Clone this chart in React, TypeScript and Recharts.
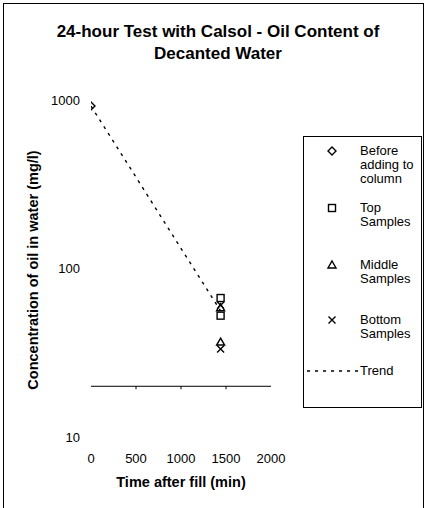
import React from 'react';
import { ScatterChart, Scatter, XAxis, YAxis, ReferenceLine } from 'recharts';

// ---- data ----
const beforeTimes = [0];
const beforeValues = [920];
const sampleTimes = [1440, 1440];
const topValues = [66.8, 52.5];
const middleValues = [58.5, 36.6];
const bottomValues = [60.5, 33.3];
const trendTimes = [0, 1440];
const trendValues = [920, 56];

const xTicks = [0, 500, 1000, 1500, 2000];
const yTicks = [10, 100, 1000];
const axisCrossValue = 20;
const axisTickMarks = [500, 1000, 1500];

const titleLines = ['24-hour Test with Calsol - Oil Content of', 'Decanted Water'];
const xTitle = 'Time after fill (min)';
const yTitle = 'Concentration of oil in water (mg/l)';
const legendLabels = [
  ['Before', 'adding to', 'column'],
  ['Top', 'Samples'],
  ['Middle', 'Samples'],
  ['Bottom', 'Samples'],
  ['Trend'],
];

const FONT = '"Liberation Sans", Arial, sans-serif';

const zip = (xs: number[], ys: number[]) => xs.map((x, i) => ({ x, y: ys[i] }));
const beforeData = zip(beforeTimes, beforeValues);
const topData = zip(sampleTimes, topValues);
const middleData = zip(sampleTimes, middleValues);
const bottomData = zip(sampleTimes, bottomValues);
const trendData = zip(trendTimes, trendValues);

const SW = 1.4;
const diamondPath = (cx: number, cy: number) => `M${cx},${cy - 4}L${cx + 4},${cy}L${cx},${cy + 4}L${cx - 4},${cy}Z`;
const trianglePath = (cx: number, cy: number) => `M${cx},${cy - 4}L${cx + 4},${cy + 3}L${cx - 4},${cy + 3}Z`;
const crossPath = (cx: number, cy: number) => `M${cx - 3.5},${cy - 3.5}L${cx + 3.5},${cy + 3.5}M${cx + 3.5},${cy - 3.5}L${cx - 3.5},${cy + 3.5}`;

const Diamond = (p: any) => <path d={diamondPath(p.cx, p.cy)} fill="none" stroke="#000" strokeWidth={SW} />;
const Square = (p: any) => <rect x={p.cx - 3.5} y={p.cy - 3.5} width={7} height={7} fill="none" stroke="#000" strokeWidth={SW} />;
const Triangle = (p: any) => <path d={trianglePath(p.cx, p.cy)} fill="none" stroke="#000" strokeWidth={SW} />;
const Cross = (p: any) => <path d={crossPath(p.cx, p.cy)} fill="none" stroke="#000" strokeWidth={SW} />;
const NoShape = () => <g />;

const legendMarkers = [Diamond, Square, Triangle, Cross];
const legendTops = [7, 64, 121, 176, 227];

export default function App() {
  return (
    <div style={{ position: 'absolute', left: 0, top: 0, width: 425, height: 508, background: '#fff', fontFamily: FONT, overflow: 'hidden' }}>
      <div style={{ position: 'absolute', left: 3, top: 3, width: 419, height: 530, border: '1px solid #000' }} />
      <div style={{ position: 'absolute', left: 10, top: 21, width: 416, textAlign: 'center', fontWeight: 'bold', fontSize: 17, lineHeight: '22px', color: '#000' }}>
        {titleLines.map((l, i) => <div key={i}>{l}</div>)}
      </div>
      <div style={{ position: 'absolute', left: 0, top: 0 }}>
        <ScatterChart width={425} height={508} margin={{ top: 100, right: 154, bottom: 41, left: 31 }}>
          <XAxis
            type="number"
            dataKey="x"
            domain={[0, 2000]}
            ticks={xTicks}
            interval={0}
            allowDataOverflow
            axisLine={false}
            tickLine={false}
            height={30}
            tickMargin={11}
            tick={{ fontSize: 13, fill: '#000', fontFamily: FONT }}
            label={{
              content: () => (
                <text x={181} y={487} textAnchor="middle" fontSize={14.5} fontWeight="bold" fontFamily={FONT} fill="#000">{xTitle}</text>
              ),
            }}
          />
          <YAxis
            type="number"
            dataKey="y"
            scale="log"
            domain={[10, 1000]}
            ticks={yTicks}
            interval={0}
            allowDataOverflow
            axisLine={false}
            tickLine={false}
            width={60}
            tickMargin={5}
            tick={{ fontSize: 13, fill: '#000', fontFamily: FONT }}
            label={{
              content: () => (
                <text x={38} y={270} transform="rotate(-90 38 270)" textAnchor="middle" fontSize={14.5} fontWeight="bold" fontFamily={FONT} fill="#000">{yTitle}</text>
              ),
            }}
          />
          <ReferenceLine y={axisCrossValue} stroke="#000" strokeWidth={1} />
          {axisTickMarks.map((v) => (
            <ReferenceLine key={v} segment={[{ x: v, y: axisCrossValue }, { x: v, y: axisCrossValue * 0.96 }]} stroke="#000" />
          ))}
          <Scatter data={trendData} line={{ stroke: '#000', strokeWidth: 1.4, strokeDasharray: '3 5' }} shape={NoShape} isAnimationActive={false} />
          <Scatter data={beforeData} shape={Diamond} isAnimationActive={false} />
          <Scatter data={topData} shape={Square} isAnimationActive={false} />
          <Scatter data={middleData} shape={Triangle} isAnimationActive={false} />
          <Scatter data={bottomData} shape={Cross} isAnimationActive={false} />
        </ScatterChart>
      </div>
      <div style={{ position: 'absolute', left: 303, top: 136, width: 119, height: 272, border: '1px solid #000', boxSizing: 'border-box', fontSize: 13, lineHeight: '14px', color: '#000' }}>
        {legendLabels.map((lines, i) => {
          const M = legendMarkers[i];
          return (
            <div key={i} style={{ position: 'absolute', left: 0, top: legendTops[i], width: 117 }}>
              <svg width={56} height={14} style={{ position: 'absolute', left: 0, top: 0 }}>
                {M ? <M cx={28} cy={7} /> : <line x1={3} y1={7} x2={55} y2={7} stroke="#000" strokeWidth={1.3} strokeDasharray="3 5" />}
              </svg>
              <div style={{ position: 'absolute', left: 56, top: 0, whiteSpace: 'nowrap' }}>
                {lines.map((l, j) => <div key={j}>{l}</div>)}
              </div>
            </div>
          );
        })}
      </div>
    </div>
  );
}
